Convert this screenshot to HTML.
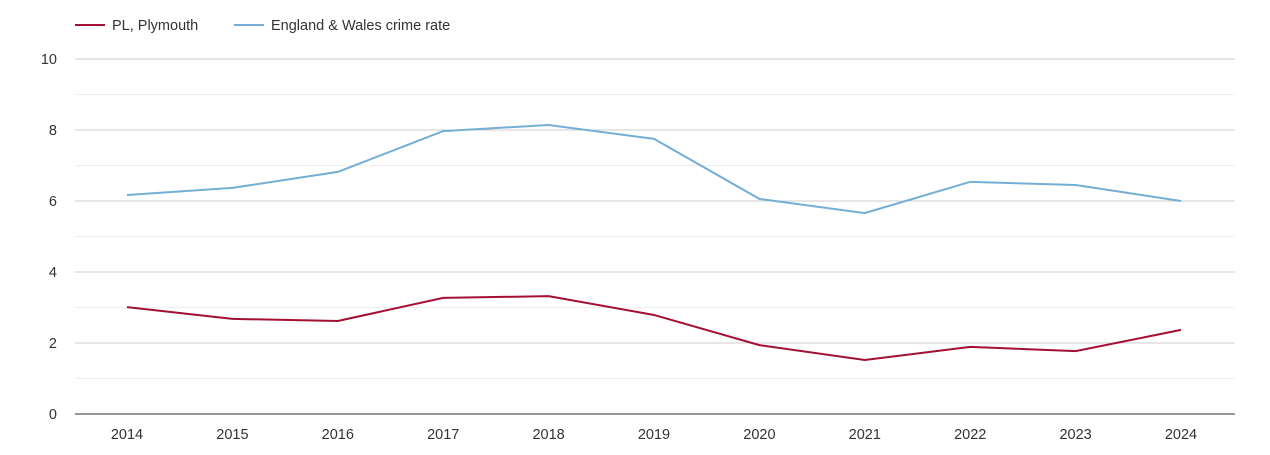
<!DOCTYPE html>
<html><head><meta charset="utf-8"><style>
body{margin:0;background:#fff;font-family:"Liberation Sans",sans-serif;}
svg text{font-family:"Liberation Sans",sans-serif;fill:#333;}
</style></head><body>
<svg width="1270" height="450">
<g>
<line x1="75" y1="25" x2="105" y2="25" stroke="#a50f32" stroke-width="2"/>
<text x="112" y="30" font-size="14.5">PL, Plymouth</text>
<line x1="234" y1="25" x2="264" y2="25" stroke="#74aed4" stroke-width="2"/>
<text x="271" y="30" font-size="14.5">England &amp; Wales crime rate</text>
</g>
<g id="grid"></g><g id="axes"></g><g id="series"></g>
</svg>
<script>
const years=[2014,2015,2016,2017,2018,2019,2020,2021,2022,2023,2024];
const plymouth=[3.01,2.68,2.62,3.27,3.32,2.79,1.94,1.52,1.89,1.77,2.37];
const englandWales=[6.17,6.37,6.82,7.97,8.14,7.75,6.06,5.66,6.54,6.45,6.0];
const yTicks=[0,2,4,6,8,10];
const NS="http://www.w3.org/2000/svg";
const x=i=>127+i*(1181-127)/(years.length-1);
const y=v=>414-v*35.5;
const grid=document.getElementById('grid'),axes=document.getElementById('axes'),series=document.getElementById('series');
function mk(t,a,p){const e=document.createElementNS(NS,t);for(const k in a)e.setAttribute(k,a[k]);p.appendChild(e);return e;}
for(let v=1;v<10;v+=2){const l=mk('line',{x1:75,x2:1235,y1:y(v),y2:y(v),stroke:'#eee'},grid);

}
yTicks.forEach(v=>{if(v>0){const l=mk('line',{x1:75,x2:1235,y1:y(v),y2:y(v),stroke:'#ccc'},grid);

}
const t=mk('text',{x:57,y:y(v)+5,'text-anchor':'end','font-size':14.5},axes);t.textContent=v;

});
const ax=mk('line',{x1:75,x2:1235,y1:414,y2:414,stroke:'#333'},axes);


years.forEach((yr,i)=>{const t=mk('text',{x:x(i),y:439,'text-anchor':'middle','font-size':14.5},axes);t.textContent=yr;

});
function line(d,c,n){const p=mk('polyline',{points:d.map((v,i)=>x(i)+','+y(v)).join(' '),fill:'none',stroke:c,'stroke-width':2},series);

}
line(englandWales,'#74aed4','england-wales-line');
line(plymouth,'#a50f32','plymouth-line');
</script>
</body></html>
